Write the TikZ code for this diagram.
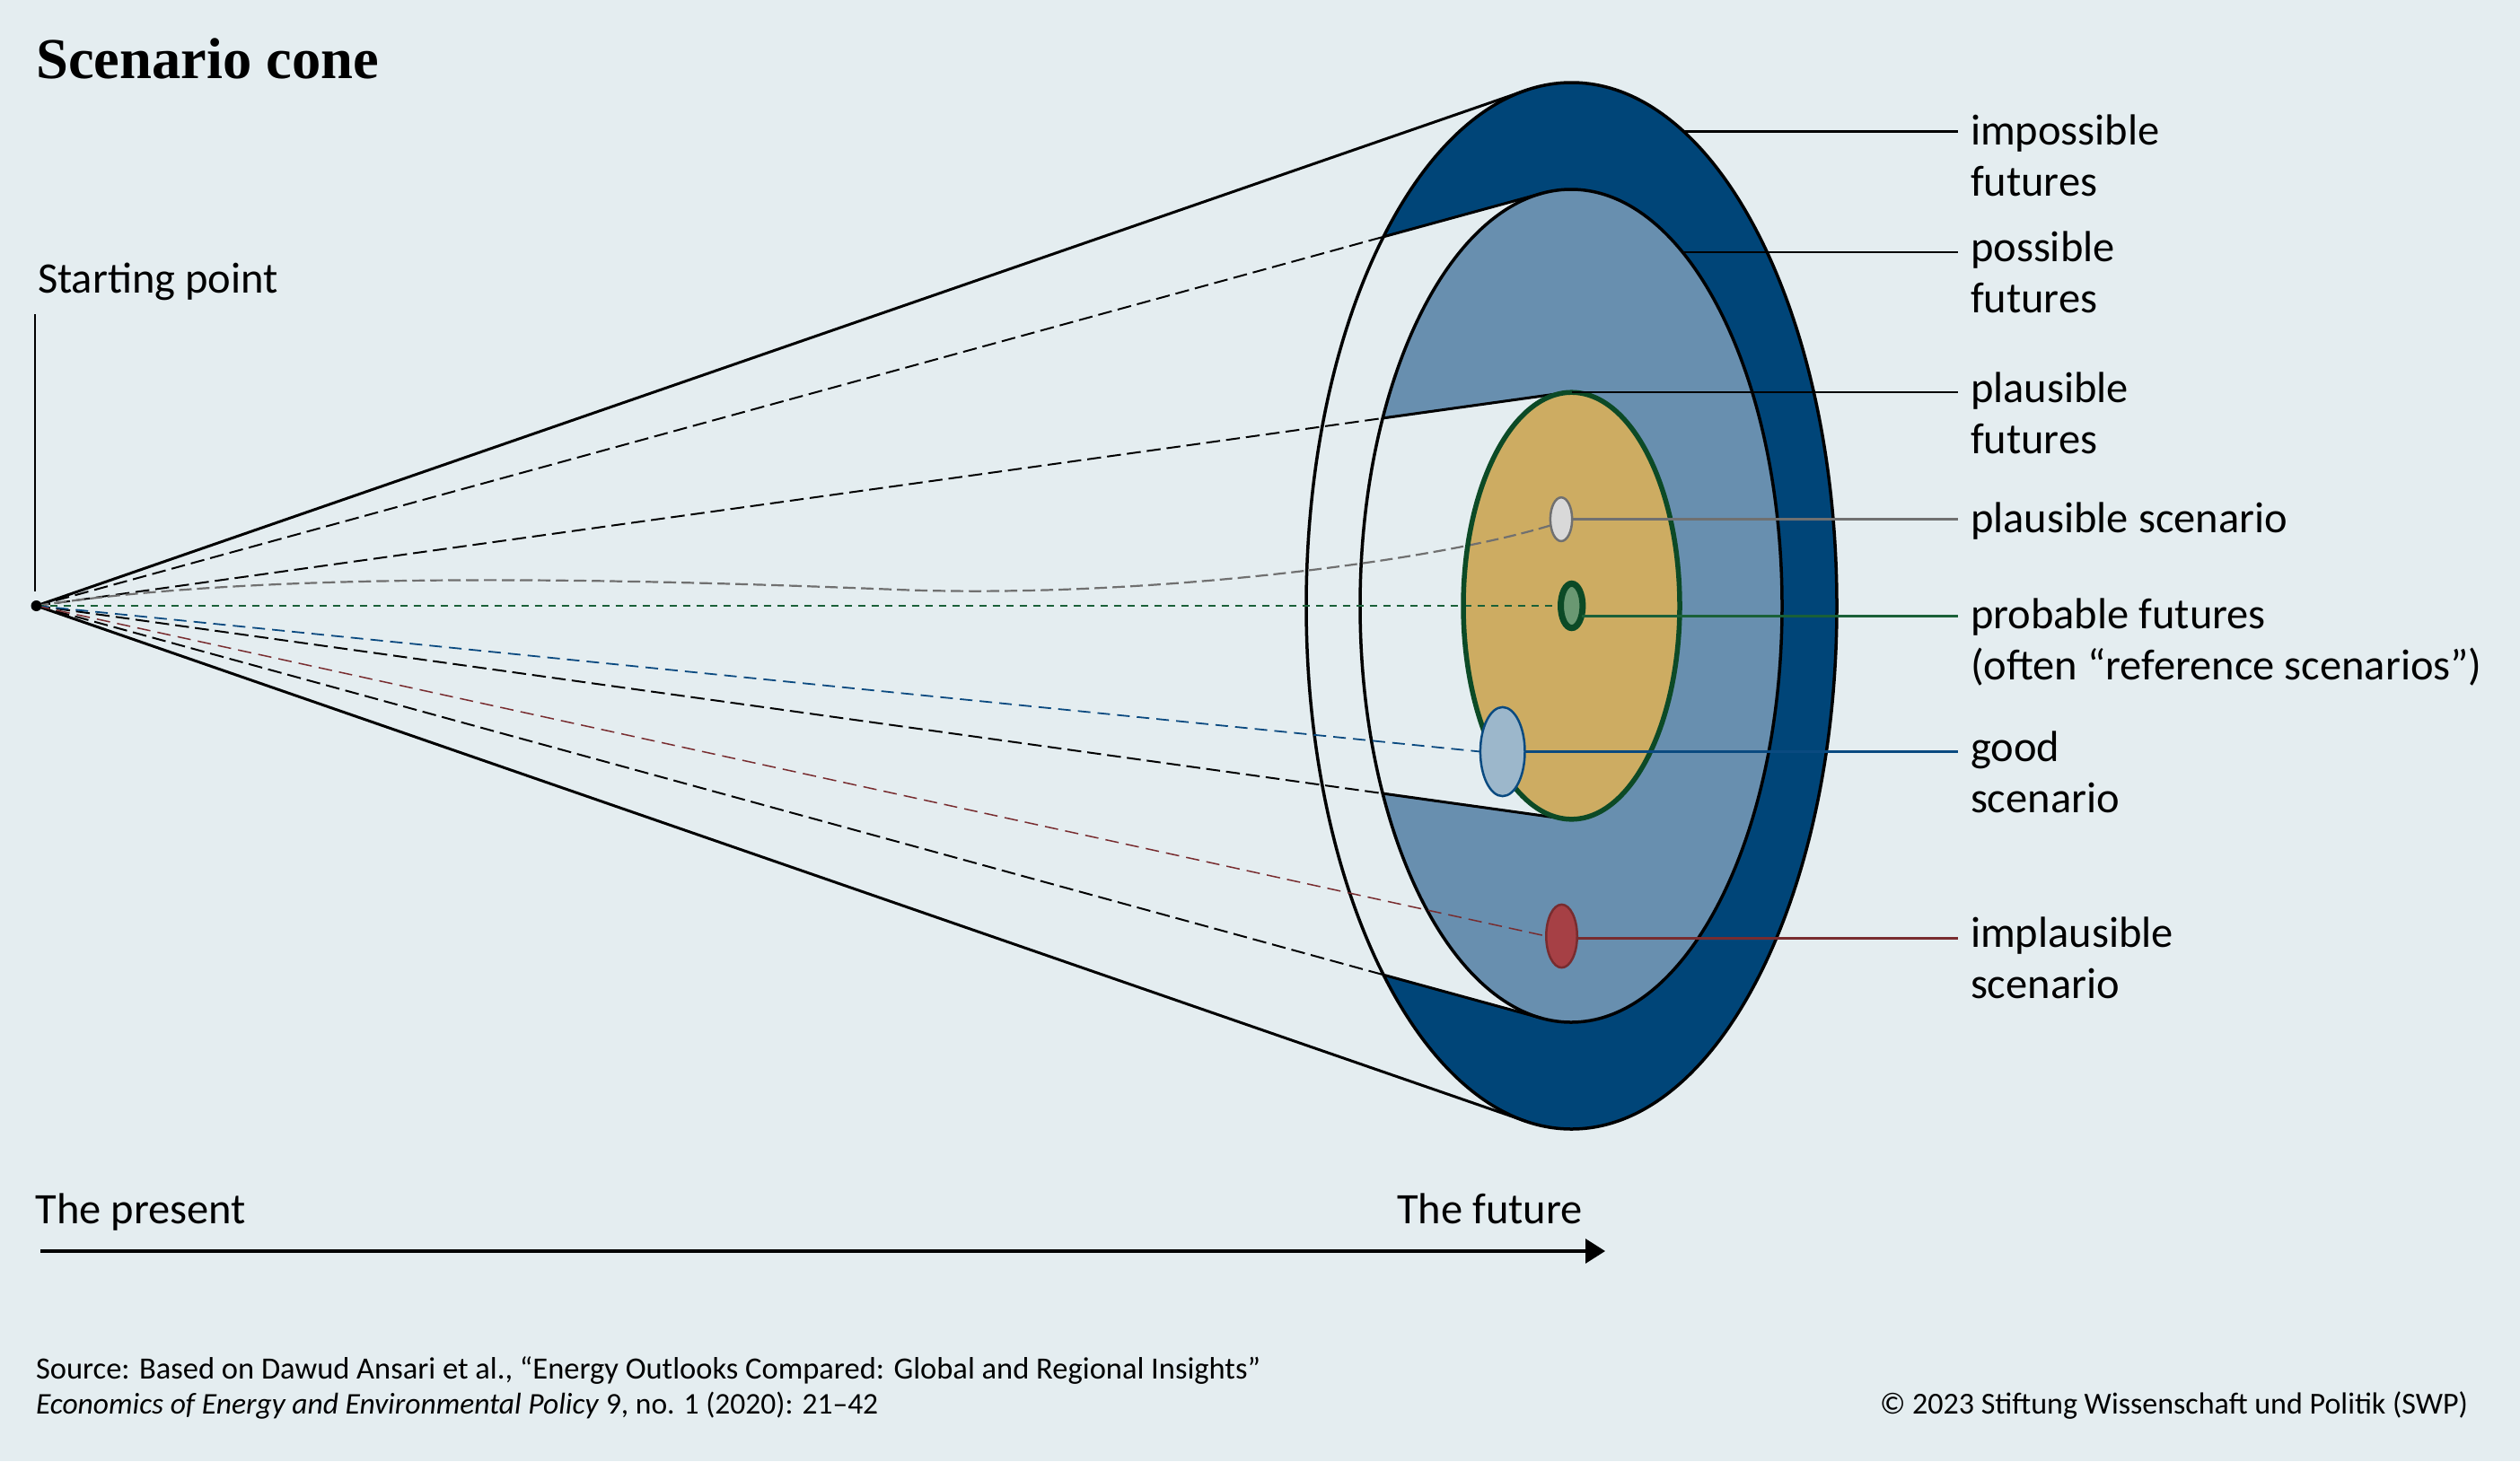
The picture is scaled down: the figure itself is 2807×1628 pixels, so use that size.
\documentclass[tikz,border=0pt]{standalone}
\usepackage{fontspec}
\setmainfont{Carlito}
\newfontfamily\titlefont{Liberation Serif}
\usetikzlibrary{shapes.geometric,arrows.meta}

\definecolor{bgc}{RGB}{228,237,240}
\definecolor{ringblue}{RGB}{0,69,120}
\definecolor{steel}{RGB}{104,143,175}
\definecolor{goldc}{RGB}{205,172,98}
\definecolor{dkgreen}{RGB}{12,74,38}
\definecolor{greenfill}{RGB}{106,152,114}
\definecolor{greenline}{RGB}{26,96,56}
\definecolor{grayfill}{RGB}{217,217,217}
\definecolor{grayline}{RGB}{112,112,112}
\definecolor{bluefill}{RGB}{156,183,203}
\definecolor{blueline}{RGB}{10,74,128}
\definecolor{redfill}{RGB}{166,64,69}
\definecolor{redline}{RGB}{120,44,47}

\begin{document}
\begin{tikzpicture}[x=1pt,y=-1pt,
  lbl/.style={anchor=base west,inner sep=0pt,outer sep=0pt,align=left,font=\fontsize{48.5}{57}\selectfont},
  foot/.style={anchor=base west,inner sep=0pt,outer sep=0pt,font=\fontsize{34}{38}\selectfont},
  ell/.style={ellipse,inner sep=0pt,outer sep=0pt},
  conecone/.style={line width=3pt,black},
  blackdash/.style={line width=2pt,black,dash pattern=on 15.5pt off 6.8pt},
  graydash/.style={line width=2.2pt,grayline,dash pattern=on 14pt off 6pt},
  greendash/.style={line width=1.1pt,greenline,dash pattern=on 8.5pt off 6.5pt},
  bluedash/.style={line width=1.8pt,blueline,dash pattern=on 14pt off 8pt},
  reddash/.style={line width=1.5pt,redline,dash pattern=on 15pt off 8pt},
  conn/.style={line width=2.3pt},
  dot/.style={circle,fill=black,inner sep=0pt,minimum size=12pt}
]
% background / bounding box
\path[use as bounding box,fill=bgc] (0,0) rectangle (2807,1628);

% key points
\coordinate (S) at (40.5,675);
\coordinate (Otop) at (1699.4,100.8);
\coordinate (Obot) at (1699.4,1249.2);
\coordinate (Ptop) at (1717.7,215.4);
\coordinate (Pbot) at (1717.7,1134.6);
\coordinate (Gtop) at (1742.0,437.8);
\coordinate (Gbot) at (1742.0,912.2);
\coordinate (xR) at (2181,0);

% fills
\fill[ringblue] (1750.5,675) ellipse [x radius=295.5, y radius=583];
\fill[bgc] (S) -- (Ptop) -- (Pbot) -- cycle;
\fill[steel] (1750,675) ellipse [x radius=235, y radius=464];
\fill[bgc] (S) -- (Gtop) -- (Gbot) -- cycle;
\fill[goldc] (1750.5,675) ellipse [x radius=120.5, y radius=237.8];

% cone lines
\draw[conecone] (S) -- (Otop);
\draw[conecone] (S) -- (Obot);
\draw[blackdash] (S) -- (Ptop);
\draw[blackdash] (S) -- (Pbot);
\draw[blackdash] (S) -- (Gtop);
\draw[blackdash] (S) -- (Gbot);
\begin{scope}
  \clip (1750.5,675) ellipse [x radius=295.5, y radius=583];
  \draw[conecone] (S) -- (Ptop);
  \draw[conecone] (S) -- (Pbot);
\end{scope}
\begin{scope}
  \clip (1750,675) ellipse [x radius=235, y radius=464];
  \draw[conecone] (S) -- (Gtop);
  \draw[conecone] (S) -- (Gbot);
\end{scope}

% outlines of the futures
\node[ell,draw=black,line width=3.5pt,minimum width=591pt,minimum height=1166pt] (outerE) at (1750.5,675) {};
\node[ell,draw=black,line width=3.5pt,minimum width=470pt,minimum height=928pt] (possE) at (1750,675) {};

% small scenario ellipses (positions first, for the dashed lines)
\coordinate (grayC) at (1739,578.6);
\coordinate (greenC) at (1750.7,675);
\coordinate (blueC) at (1673.7,837.5);
\coordinate (redC) at (1739.5,1043);

\path (grayC) node[ell,minimum width=24.3pt,minimum height=48.7pt] (grayE) {};
\path (greenC) node[ell,minimum width=24.4pt,minimum height=49.4pt] (greenE) {};
\path (blueC) node[ell,minimum width=49.6pt,minimum height=99.2pt] (blueE) {};
\path (redC) node[ell,minimum width=34.5pt,minimum height=70.3pt] (redE) {};

% scenario dashed lines
\draw[graydash] (S) .. controls (300,635) and (700,645) .. (1000,657)
   .. controls (1250,667) and (1580,630) .. (grayE.210);
\draw[greendash] (S) -- (greenE.west);
\draw[bluedash] (S) -- (blueE.west);
\draw[reddash] (S) -- (redE.west);

\node[ell,draw=dkgreen,line width=5.5pt,minimum width=241pt,minimum height=475.6pt] (goldE) at (1750.5,675) {};

% small ellipses drawn
\node[ell,draw=grayline,fill=grayfill,line width=2.5pt,minimum width=24.3pt,minimum height=48.7pt] at (grayC) {};
\node[ell,draw=dkgreen,fill=greenfill,line width=7pt,minimum width=24.4pt,minimum height=49.4pt] at (greenC) {};
\node[ell,draw=blueline,fill=bluefill,line width=2.5pt,minimum width=49.6pt,minimum height=99.2pt] at (blueC) {};
\node[ell,draw=redline,fill=redfill,line width=2.5pt,minimum width=34.5pt,minimum height=70.3pt] at (redC) {};

% starting dot
\node[dot] (Sdot) at (S) {};

% connectors to the labels
\coordinate (cImp) at (1875,146.5);
\coordinate (cPos) at (1874,281);
\draw[conn,black] (cImp) -- (cImp -| xR);
\draw[conn,black] (cPos) -- (cPos -| xR);
\draw[conn,black] (goldE.north) -- (goldE.north -| xR);
\draw[conn,grayline] (grayE.east) -- (grayE.east -| xR);
\draw[conn,line width=2.6pt,greenline] (greenE.-47) -- (greenE.-47 -| xR);
\draw[conn,blueline] (blueE.east) -- (blueE.east -| xR);
\draw[conn,redline] (redE.-8) -- (redE.-8 -| xR);

% labels (base anchor of a two-line node is its last line)
\node[lbl] (tImp) at (2195,218) {impossible\\futures};
\node[lbl] (tPos) at (2195,348.5) {possible\\futures};
\node[lbl] (tPla) at (2195,505) {plausible\\futures};
\node[lbl] (tPsc) at (2195,593) {plausible scenario};
\node[lbl] (tPro) at (2195,757) {probable futures\\(often “reference scenarios”)};
\node[lbl] (tGood) at (2195,905) {good\\scenario};
\node[lbl] (tImpl) at (2195,1112) {implausible\\scenario};

% title and starting point
\node[anchor=base west,inner sep=0pt] (title) at (40,87) {\titlefont\bfseries\fontsize{64.5}{70}\selectfont Scenario cone};
\node[lbl] (start) at (42,326) {Starting point};
\coordinate (V0) at (39,350);
\coordinate (V1) at (39,659);
\draw[line width=2.2pt] (V0) -- (V1);

% time axis
\coordinate (A0) at (45,1394);
\coordinate (A1) at (1788,1394);
\draw[line width=3.3pt,-{Triangle[length=22pt,width=27pt]}] (A0) -- (A1);
\node[lbl] (present) at (39.5,1363) {The present};
\node[lbl] (future) at (1556,1363) {The future};

% footer
\node[foot,font=\fontsize{34.5}{38}\selectfont] (src1) at (40,1536) {Source: Based on Dawud Ansari et al., “Energy Outlooks Compared: Global and Regional Insights”};
\node[foot,font=\fontsize{33.5}{38}\selectfont] (src2) at (40,1575) {\textit{Economics of Energy and Environmental Policy} 9, no. 1 (2020): 21–42};
\node[foot,anchor=base east] (copy) at (2749,1575) {© 2023 Stiftung Wissenschaft und Politik (SWP)};
\end{tikzpicture}
\end{document}
